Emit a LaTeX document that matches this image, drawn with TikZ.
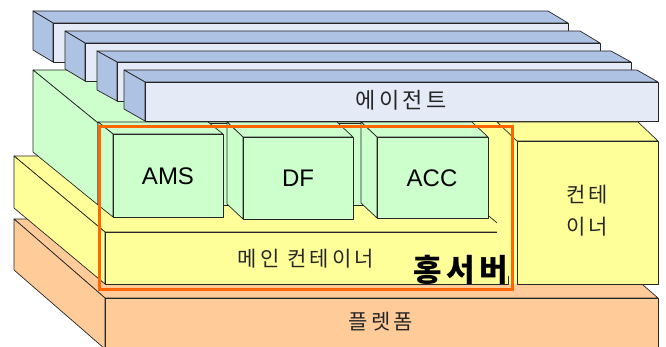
\documentclass[tikz,border=0pt]{standalone}
\usepackage{fontspec}
\setmainfont{Liberation Sans}
\newfontfamily\kr[LetterSpace=15]{Noto Sans CJK KR}
\definecolor{plat}{HTML}{FFCC99}
\definecolor{yel}{HTML}{FFFF99}
\definecolor{grn}{HTML}{CCFFCC}
\definecolor{blueside}{HTML}{AEC2E3}
\definecolor{bluefront}{HTML}{E4EBF7}
\definecolor{frameor}{HTML}{FF6600}
\tikzset{
  face/.style={draw=black!85, line width=0.7pt, line join=round},
  krlbl/.style={font=\kr\fontsize{21}{32}\selectfont, text=black!85, inner sep=0pt, align=center},
  enlbl/.style={font=\fontsize{24}{24}\selectfont, text=black, inner sep=0pt},
  hosvr/.style={font=\kr\bfseries\fontsize{31}{31}\selectfont, text=black, inner sep=0pt},
  hostframe/.style={draw=frameor, line width=3pt}
}
% front-left-top x, y, width, height, depth dx, dy, front colour, side colour
\newcommand{\isobox}[8]{%
  \filldraw[face, fill=#8] ({#1-#5},{#2-#6}) -- ({#1-#5+#3},{#2-#6}) -- ({#1+#3},#2) -- (#1,#2) -- cycle;
  \filldraw[face, fill=#8] ({#1-#5},{#2-#6}) -- (#1,#2) -- (#1,{#2+#4}) -- ({#1-#5},{#2+#4-#6}) -- cycle;
  \filldraw[face, fill=#7] (#1,#2) rectangle ({#1+#3},{#2+#4});
}
\begin{document}
\begin{tikzpicture}[x=1pt,y=-1pt]
\useasboundingbox (0,0) rectangle (666,347);
\clip (0,0) rectangle (666,347);
% platform
\isobox{105}{298}{553}{51}{91}{79}{plat}{plat}
% yellow backdrop on the right
\fill[yel] (440,122) -- (517,122) -- (517,284) -- (508,284) -- (508,232) -- (417,156) -- cycle;
% main container layer
\isobox{105}{232}{403}{52}{91}{76}{yel}{yel}
% green agent platform block
\isobox{98}{123}{374}{82}{65}{53}{grn}{grn}
% AMS, DF, ACC
\isobox{113}{134}{110}{83}{15}{12}{grn}{grn}
\isobox{243}{137}{110}{82}{16}{15}{grn}{grn}
\isobox{377}{137}{111}{81}{16}{15}{grn}{grn}
% agent bars
\isobox{53}{23}{515}{39}{20}{12}{bluefront}{blueside}
\isobox{85}{43}{515}{38}{20}{12}{bluefront}{blueside}
\isobox{117}{62}{514}{39}{20}{11}{bluefront}{blueside}
\isobox{145}{82}{513}{39}{21}{12}{bluefront}{blueside}
% right container (left face unstroked, only its top edge)
\fill[yel] (497,122) -- (517,141) -- (517,284) -- (497,265) -- cycle;
\filldraw[face, fill=yel] (497,122) -- (638,122) -- (658,141) -- (517,141) -- cycle;
\filldraw[face, fill=yel] (517,141) rectangle (658,284);
% host frame
\draw[hostframe] (99,127) rectangle (512,289);
% labels
\node[krlbl, font=\kr\fontsize{22}{22}\selectfont] (agent) at (401,100) {에이전트};
\node[enlbl] (ams) at (168,176) {AMS};
\node[enlbl] (df) at (298,178) {DF};
\node[enlbl] (acc) at (432,178) {ACC};
\node[krlbl] (mainc) at (306,259) {메인 컨테이너};
\node[krlbl] (cont) at (587,211) {컨테\\이너};
\node[krlbl] (plat) at (381,322) {플렛폼};
\node[hosvr] (host) at (461,270) {홍서버};
\end{tikzpicture}
\end{document}
